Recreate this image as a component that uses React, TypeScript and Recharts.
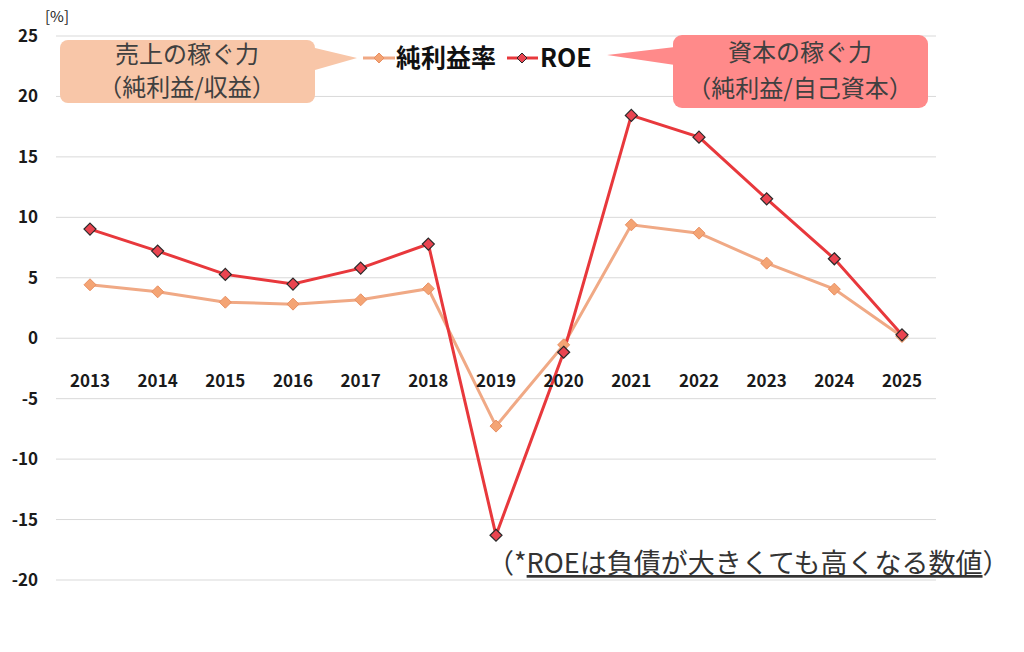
import React from 'react'
import { LineChart, Line, XAxis, YAxis, CartesianGrid } from 'recharts'

// 純利益率 と ROE の推移 (2013-2025)

const years = ['2013', '2014', '2015', '2016', '2017', '2018', '2019', '2020', '2021', '2022', '2023', '2024', '2025']
const netMargin = [4.42, 3.84, 2.98, 2.82, 3.18, 4.09, -7.27, -0.55, 9.38, 8.69, 6.21, 4.06, 0.14]
const roe = [9.03, 7.21, 5.28, 4.48, 5.8, 7.79, -16.3, -1.16, 18.43, 16.63, 11.53, 6.57, 0.28]
const yTicks = [25, 20, 15, 10, 5, 0, -5, -10, -15, -20]

const W = 1024
const H = 652
const PLOT_TOP = 36
const PLOT_BOTTOM = 580
const ZERO_Y = PLOT_TOP + ((PLOT_BOTTOM - PLOT_TOP) * 25) / 45

const FONT = '"Noto Sans CJK JP", "Noto Sans", sans-serif'
const NET_COLOR = '#f0a985'
const NET_DOT = '#f4a474'
const ROE_COLOR = '#e8383c'
const ROE_DOT = '#ea4450'

const data = years.map((y, i) => ({ year: y, net: netMargin[i], roe: roe[i] }))

const diamond = (cx: number, cy: number, r: number) =>
  `${cx},${cy - r} ${cx + r},${cy} ${cx},${cy + r} ${cx - r},${cy}`

const NetDot = (props: { cx?: number; cy?: number; index?: number }) => {
  if (props.cx == null || props.cy == null) return <g key={`n-${props.index}`} />
  return (
    <polygon
      key={`n-${props.index}`}
      points={diamond(props.cx, props.cy, 6)}
      fill={NET_DOT}
      stroke="#e88f62"
      strokeWidth={1}
    />
  )
}

const RoeDot = (props: { cx?: number; cy?: number; index?: number }) => {
  if (props.cx == null || props.cy == null) return <g key={`r-${props.index}`} />
  return (
    <polygon
      key={`r-${props.index}`}
      points={diamond(props.cx, props.cy, 6)}
      fill={ROE_DOT}
      stroke="#2a2a2a"
      strokeWidth={1.2}
    />
  )
}

const YearTick = (props: { x?: number; payload?: { value: string } }) => (
  <text
    x={props.x}
    y={ZERO_Y + 41}
    textAnchor="middle"
    dominantBaseline="central"
    fontFamily={FONT}
    fontSize={17}
    fontWeight={700}
    fill="#1a1a1a"
  >
    {props.payload?.value}
  </text>
)

export default function App() {
  return (
    <div style={{ position: 'absolute', left: 0, top: 0, width: W, height: H, background: '#fff' }}>
      <LineChart
        width={W}
        height={H}
        data={data}
        margin={{ top: PLOT_TOP, right: 88, bottom: 42, left: 0 }}
        style={{ position: 'absolute', left: 0, top: 0 }}
      >
        <CartesianGrid vertical={false} stroke="#d9d9d9" strokeWidth={1} />
        <XAxis
          dataKey="year"
          axisLine={false}
          tickLine={false}
          height={30}
          interval={0}
          padding={{ left: 34, right: 34 }}
          tick={<YearTick />}
        />
        <YAxis
          domain={[-20, 25]}
          ticks={yTicks}
          axisLine={false}
          tickLine={false}
          tickSize={0}
          tickMargin={18}
          width={56}
          tick={{ fontSize: 17, fontWeight: 700, fill: '#1a1a1a', fontFamily: FONT }}
        />
        <Line
          type="linear"
          dataKey="net"
          stroke={NET_COLOR}
          strokeWidth={3}
          dot={<NetDot />}
          activeDot={false}
          isAnimationActive={false}
        />
        <Line
          type="linear"
          dataKey="roe"
          stroke={ROE_COLOR}
          strokeWidth={3}
          dot={<RoeDot />}
          activeDot={false}
          isAnimationActive={false}
        />
      </LineChart>

      <svg
        width={W}
        height={H}
        style={{ position: 'absolute', left: 0, top: 0, pointerEvents: 'none' }}
        fontFamily={FONT}
      >
        {/* unit */}
        <text x={45} y={22} fontSize={15} fill="#222">[%]</text>

        {/* left callout */}
        <path d="M315,48 L357,58 L315,70 Z" fill="#f8c6a8" />
        <rect x={60} y={40} width={255} height={63} rx={8} fill="#f8c6a8" />
        <text x={187} y={63} textAnchor="middle" fontSize={24} fill="#404040">売上の稼ぐ力</text>
        <text x={187} y={96} textAnchor="middle" fontSize={24} fill="#404040">（純利益/収益）</text>

        {/* right callout */}
        <path d="M675,47 L607,55 L675,65 Z" fill="#ff8a8a" />
        <rect x={673} y={35} width={255} height={73} rx={9} fill="#ff8a8a" />
        <text x={800} y={61} textAnchor="middle" fontSize={24} fill="#404040">資本の稼ぐ力</text>
        <text x={800} y={97} textAnchor="middle" fontSize={24} fill="#404040">（純利益/自己資本）</text>

        {/* legend */}
        <line x1={363} y1={58} x2={395} y2={58} stroke={NET_COLOR} strokeWidth={3} />
        <polygon points={diamond(379, 58, 5)} fill={NET_DOT} stroke="#e88f62" strokeWidth={1} />
        <text x={396} y={67} fontSize={25} fontWeight={700} fill="#111">純利益率</text>
        <line x1={507} y1={58} x2={538} y2={58} stroke={ROE_COLOR} strokeWidth={3} />
        <polygon points={diamond(522, 58, 5)} fill={ROE_DOT} stroke="#2a2a2a" strokeWidth={1} />
        <text x={540} y={67} fontSize={25} fontWeight={700} fill="#111">ROE</text>

        {/* note */}
        <text x={487} y={573} fontSize={27} fill="#333">
          （*<tspan textDecoration="underline">ROEは負債が大きくても高くなる数値</tspan>）
        </text>
      </svg>
    </div>
  )
}
